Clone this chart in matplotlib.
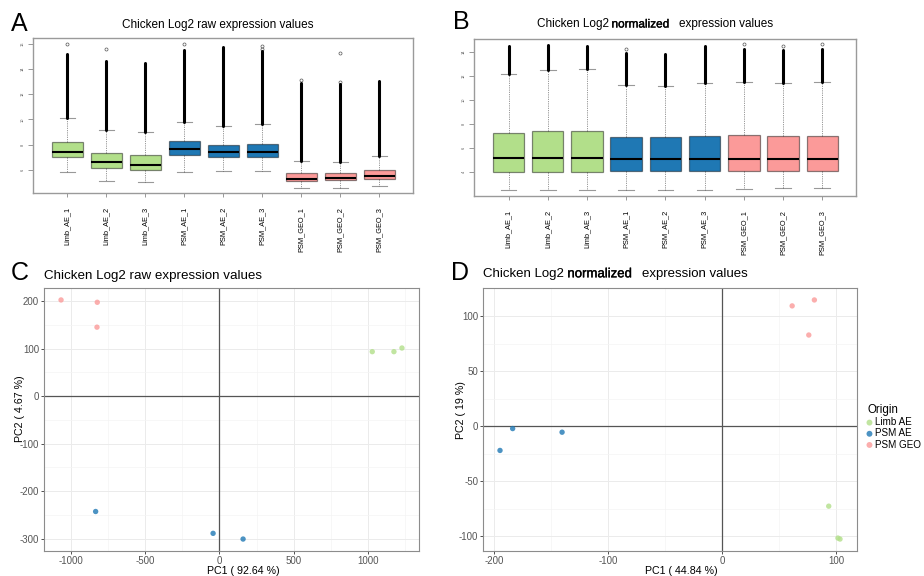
import matplotlib
matplotlib.use("Agg")
import matplotlib.pyplot as plt
import matplotlib.patheffects as pe
import numpy as np

plt.rcParams['font.family'] = ['Liberation Sans', 'DejaVu Sans']
plt.rcParams['axes.unicode_minus'] = False

W, H = 924, 576

samples = ['Limb_AE_1', 'Limb_AE_2', 'Limb_AE_3', 'PSM_AE_1', 'PSM_AE_2', 'PSM_AE_3',
           'PSM_GEO_1', 'PSM_GEO_2', 'PSM_GEO_3']
box_colors = ['#B2DF8A'] * 3 + ['#1F78B4'] * 3 + ['#FB9A99'] * 3

# raw log2 boxplot stats
raw_q1 = [7.0, 6.13, 5.95, 7.21, 7.03, 7.0, 5.08, 5.18, 5.26]
raw_med = [7.4, 6.58, 6.39, 7.68, 7.45, 7.4, 5.29, 5.37, 5.5]
raw_q3 = [8.2, 7.37, 7.16, 8.26, 8.0, 8.08, 5.74, 5.76, 5.97]
raw_lo = [5.85, 5.08, 5.0, 5.82, 5.9, 5.9, 4.58, 4.58, 4.74]
raw_hi = [10.1, 9.16, 9.0, 9.82, 9.47, 9.66, 6.68, 6.63, 7.08]
raw_dense_top = [15.2, 14.6, 14.5, 15.5, 15.7, 15.4, 12.85, 12.8, 13.05]
raw_sparse = [[16.0], [15.6], [], [16.0], [], [15.6, 15.85], [13.15], [13.0, 15.3], []]

# normalized log2 boxplot stats
norm_q1 = [4.0, 3.97, 3.97, 4.05, 4.05, 4.05, 4.08, 4.08, 4.08]
norm_med = [5.14, 5.19, 5.17, 5.05, 5.1, 5.1, 5.08, 5.08, 5.08]
norm_q3 = [7.28, 7.39, 7.44, 6.94, 6.94, 7.03, 7.08, 7.03, 7.03]
norm_lo = [2.53, 2.53, 2.53, 2.53, 2.47, 2.53, 2.58, 2.69, 2.64]
norm_hi = [12.2, 12.5, 12.6, 11.25, 11.17, 11.42, 11.53, 11.47, 11.53]
norm_dense_top = [14.5, 14.6, 14.5, 13.9, 13.85, 14.5, 14.25, 14.2, 14.25]
norm_sparse = [[], [], [], [14.25], [], [], [14.7], [14.5], [14.7]]

# PCA coordinates
origin = ['Limb AE'] * 3 + ['PSM AE'] * 3 + ['PSM GEO'] * 3
origin_colors = {'Limb AE': '#B2DF8A', 'PSM AE': '#1F78B4', 'PSM GEO': '#FB9A99'}
pc_raw_x = [1029, 1175, 1229, -834, -43, 159, -1067, -823, -825]
pc_raw_y = [93.6, 93.6, 101.3, -243, -289, -301, 202.5, 197.6, 145.2]
pc_norm_x = [93.6, 101.7, 103.5, -183.9, -195.0, -140.5, 61.5, 81.0, 76.1]
pc_norm_y = [-72.7, -101.7, -102.6, -2.1, -22.0, -5.4, 109.5, 114.9, 83.0]

fig = plt.figure(figsize=(W / 100, H / 100), dpi=100)
fig.patch.set_facecolor('white')


def px_axes(l, t, r, b):
    return fig.add_axes([l / W, 1 - b / H, (r - l) / W, (b - t) / H])


def boxpanel(ax, q1, med, q3, lo, hi, dense_top, sparse, ylim, yticks):
    stats = []
    for i in range(len(samples)):
        stats.append(dict(q1=q1[i], med=med[i], q3=q3[i], whislo=lo[i], whishi=hi[i],
                          fliers=sparse[i], label=samples[i]))
    pos = np.arange(1, len(samples) + 1)
    bp = ax.bxp(stats, positions=pos, widths=0.8, patch_artist=True,
                boxprops=dict(edgecolor=(0, 0, 0, 0.45), linewidth=0.9),
                medianprops=dict(color='black', linewidth=1.5),
                whiskerprops=dict(color=(0, 0, 0, 0.45), linestyle=(0, (1.5, 1.2)), linewidth=0.6),
                capprops=dict(color=(0, 0, 0, 0.4), linewidth=0.8),
                capwidths=0.4,
                flierprops=dict(marker='o', markersize=2.2, markerfacecolor='none',
                                markeredgecolor='#555555', markeredgewidth=0.5))
    for patch, c in zip(bp['boxes'], box_colors):
        patch.set_facecolor(c)
    # dense outlier bands above the upper whisker
    ax.vlines(pos, hi, dense_top, color='black', linewidth=2.2, capstyle='round', zorder=3)
    ax.set_xlim(0.12, 9.86)
    ax.set_ylim(*ylim)
    ax.set_yticks(yticks)
    ax.set_yticklabels([str(v) for v in yticks], rotation=90, va='center', fontsize=2.8, color='#555555')
    ax.set_xticks(pos)
    ax.set_xticklabels(samples, rotation=90, fontsize=5.3)
    ax.tick_params(axis='x', length=3, width=0.6, color='#888888', pad=7)
    ax.tick_params(axis='y', length=3.5, width=0.6, color='#888888', pad=2.5)
    for s in ax.spines.values():
        s.set_color('#9a9a9a')
        s.set_linewidth(1.0)


axA = px_axes(33, 38, 413, 193)
boxpanel(axA, raw_q1, raw_med, raw_q3, raw_lo, raw_hi, raw_dense_top, raw_sparse,
         (4.16, 16.45), [6, 8, 10, 12, 14, 16])

axB = px_axes(474, 39, 856, 196)
boxpanel(axB, norm_q1, norm_med, norm_q3, norm_lo, norm_hi, norm_dense_top, norm_sparse,
         (2.0, 15.1), [4, 6, 8, 10, 12, 14])


def pcapanel(ax, xs, ys, xmaj, xmin, ymaj, ymin):
    for g in ['Limb AE', 'PSM AE', 'PSM GEO']:
        idx = [i for i, o in enumerate(origin) if o == g]
        ax.scatter([xs[i] for i in idx], [ys[i] for i in idx], s=15, color=origin_colors[g],
                   alpha=0.8, edgecolors='none', zorder=4, label=g)
    ax.margins(0.05)
    ax.set_xticks(xmaj)
    ax.set_xticks(xmin, minor=True)
    ax.set_yticks(ymaj)
    ax.set_yticks(ymin, minor=True)
    ax.grid(which='major', color='#EBEBEB', linewidth=0.7, zorder=0)
    ax.grid(which='minor', color='#F4F4F4', linewidth=0.5, zorder=0)
    ax.set_axisbelow(True)
    ax.axhline(0, color='#555555', linewidth=0.9, zorder=2)
    ax.axvline(0, color='#555555', linewidth=0.9, zorder=2)
    ax.tick_params(which='major', length=2.5, width=0.6, color='#333333',
                   labelsize=7, labelcolor='#555555', pad=1.0)
    ax.tick_params(which='minor', length=0)
    for s in ax.spines.values():
        s.set_color('#8c8c8c')
        s.set_linewidth(0.8)


axC = px_axes(44, 288, 419, 551)
pcapanel(axC, pc_raw_x, pc_raw_y, [-1000, -500, 0, 500, 1000], [-750, -250, 250, 750, 1250],
         [-300, -200, -100, 0, 100, 200], [-250, -150, -50, 50, 150])

axD = px_axes(483, 288, 857, 551)
pcapanel(axD, pc_norm_x, pc_norm_y, [-200, -100, 0, 100], [-150, -50, 50],
         [-100, -50, 0, 50, 100], [-75, -25, 25, 75])

# axis titles for PCA panels
fig.text(243 / W, 1 - 570.5 / H, 'PC1 ( 92.64 %)', ha='center', va='center', fontsize=7.7)
fig.text(20 / W, 1 - 409 / H, 'PC2 ( 4.67 %)', ha='center', va='center', fontsize=7.7, rotation=90)
fig.text(681 / W, 1 - 570.5 / H, 'PC1 ( 44.84 %)', ha='center', va='center', fontsize=7.7)
fig.text(461 / W, 1 - 410 / H, 'PC2 ( 19 %)', ha='center', va='center', fontsize=7.7, rotation=90)

# legend
leg = fig.legend(*axD.get_legend_handles_labels(), title='Origin', loc='upper left',
                 bbox_to_anchor=(867 / W, 1 - 404 / H), frameon=False, fontsize=7.1,
                 title_fontsize=8.3, handlelength=0.5, handletextpad=0.35,
                 labelspacing=0.12, borderpad=0, borderaxespad=0, markerscale=1.1)
leg._legend_box.align = 'left'
for h in leg.legend_handles:
    h.set_alpha(0.8)

# panel letters
for letter, x, y in [('A', 11, 31), ('B', 453, 29), ('C', 11, 280), ('D', 451, 280)]:
    fig.text(x / W, 1 - y / H, letter, fontsize=18, va='baseline', ha='left')

# titles
fig.text(122 / W, 1 - 27.7 / H, 'Chicken Log2 raw expression values', fontsize=8.45, va='baseline')
fig.text(43.5 / W, 1 - 279.3 / H, 'Chicken Log2 raw expression values', fontsize=9.6, va='baseline')

renderer = fig.canvas.get_renderer()


def split_title(x, y, parts, size):
    cur = x
    for text, gap, bold in parts:
        cur += gap
        t = fig.text(cur / W, 1 - y / H, text, fontsize=size, va='baseline', ha='left')
        if bold:
            t.set_path_effects([pe.withStroke(linewidth=0.25, foreground='black')])
        cur = t.get_window_extent(renderer).x1


split_title(537, 27.5, [('Chicken Log2', 0, False), ('normalized', 2.5, True),
                        ('expression values', 10, False)], 8.5)
split_title(483, 277.3, [('Chicken Log2', 0, False), ('normalized', 3.5, True),
                         ('expression values', 10.5, False)], 9.5)

fig.savefig('out.png', dpi=100)
